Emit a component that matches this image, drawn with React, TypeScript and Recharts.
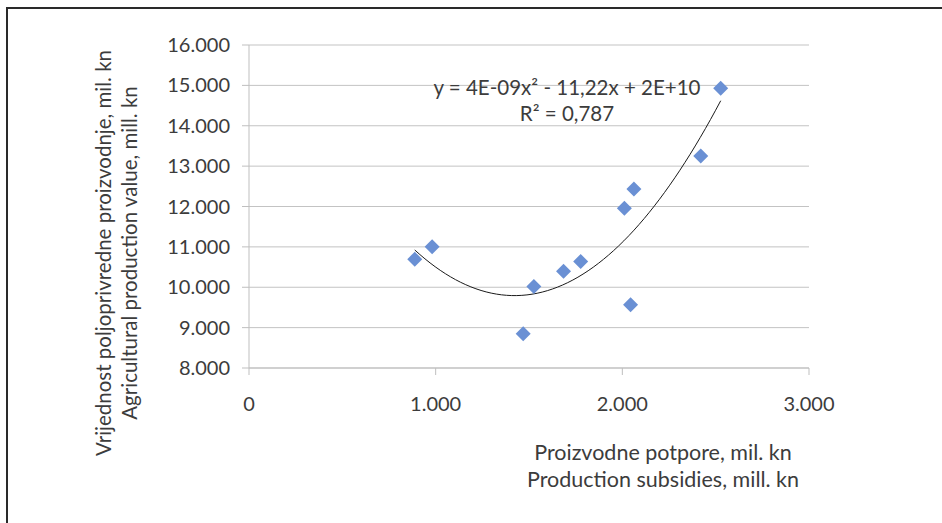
import React from 'react';
import { ScatterChart, Scatter, XAxis, YAxis, CartesianGrid, Label } from 'recharts';

// subsidies (mil. kn) vs. agricultural production value (mil. kn)
const subsidies = [888, 981, 1469, 1526, 1685, 1777, 2011, 2062, 2044, 2420, 2527];
const productionValue = [10695, 11006, 8848, 10017, 10394, 10635, 11955, 12433, 9565, 13249, 14930];

const xTicks = [0, 1000, 2000, 3000];
const yTicks = [8000, 9000, 10000, 11000, 12000, 13000, 14000, 15000, 16000];

const equationText = 'y = 4E-09x² - 11,22x + 2E+10';
const rSquaredText = 'R² = 0,787';
const yTitle = ['Vrijednost poljoprivredne proizvodnje, mil. kn', 'Agricultural production value, mill. kn'];
const xTitle = ['Proizvodne potpore, mil. kn', 'Production subsidies, mill. kn'];

const points = subsidies.map((x, i) => ({ x, y: productionValue[i] }));

// least squares polynomial fit, order 2 (same as the Excel trendline)
const fitQuadratic = (xs: number[], ys: number[]) => {
  const s = (p: number) => xs.reduce((a, x) => a + Math.pow(x, p), 0);
  const t = (p: number) => xs.reduce((a, x, i) => a + Math.pow(x, p) * ys[i], 0);
  const m = [
    [s(4), s(3), s(2), t(2)],
    [s(3), s(2), s(1), t(1)],
    [s(2), s(1), xs.length, t(0)],
  ];
  for (let c = 0; c < 3; c++) {
    for (let r = c + 1; r < 3; r++) {
      const f = m[r][c] / m[c][c];
      for (let k = c; k < 4; k++) m[r][k] -= f * m[c][k];
    }
  }
  const sol = [0, 0, 0];
  for (let r = 2; r >= 0; r--) {
    let v = m[r][3];
    for (let k = r + 1; k < 3; k++) v -= m[r][k] * sol[k];
    sol[r] = v / m[r][r];
  }
  return sol; // a, b, c
};

const [qa, qb, qc] = fitQuadratic(subsidies, productionValue);
const xMin = Math.min(...subsidies);
const xMax = Math.max(...subsidies);
const trend = Array.from({ length: 61 }, (_, i) => {
  const x = xMin + ((xMax - xMin) * i) / 60;
  return { x, y: qa * x * x + qb * x + qc };
});

const fmt = (v: number) => (v === 0 ? '0' : (v / 1000).toFixed(3));

const textColor = '#3c3c3c';
const font = 'Lato, "Open Sans", sans-serif';

const Diamond = (props: any) => {
  const { cx, cy } = props;
  const h = 7.5;
  return (
    <polygon
      points={`${cx},${cy - h} ${cx + h},${cy} ${cx},${cy + h} ${cx - h},${cy}`}
      fill="#6a90d4"
    />
  );
};

const Titles = () => (
  <g fontFamily={font} fill={textColor}>
    <text x={567} y={87} fontSize={20.5} textAnchor="middle" dominantBaseline="central">{equationText}</text>
    <text x={567} y={113} fontSize={20.5} textAnchor="middle" dominantBaseline="central">{rSquaredText}</text>
    <text x={663} y={452} fontSize={21.5} textAnchor="middle" dominantBaseline="central">{xTitle[0]}</text>
    <text x={663} y={479} fontSize={21.5} textAnchor="middle" dominantBaseline="central">{xTitle[1]}</text>
    <text x={103} y={253} fontSize={20.5} textAnchor="middle" dominantBaseline="central" transform="rotate(-90 103 253)">{yTitle[0]}</text>
    <text x={129} y={253} fontSize={20.5} textAnchor="middle" dominantBaseline="central" transform="rotate(-90 129 253)">{yTitle[1]}</text>
  </g>
);

export default function App() {
  return (
    <div style={{ position: 'absolute', left: 0, top: 0, width: 942, height: 523, background: '#fff', overflow: 'hidden' }}>
      <div style={{ position: 'absolute', left: 6, top: 7, width: 1000, height: 600, borderLeft: '2px solid #2a2a2a', borderTop: '2px solid #2a2a2a' }} />
      <div style={{ position: 'absolute', left: 0, top: 0 }}>
        <ScatterChart width={942} height={523} margin={{ top: 45, right: 133, bottom: 95, left: 149 }}>
          <CartesianGrid vertical={false} stroke="#c3c3c3" />
          <XAxis
            type="number"
            dataKey="x"
            domain={[0, 3000]}
            ticks={xTicks}
            tickFormatter={fmt}
            height={60}
            stroke="#bfbfbf"
            tickSize={7}
            tickMargin={22}
            tick={{ fill: textColor, fontSize: 20, fontFamily: font }}
            allowDataOverflow
          />
          <YAxis
            type="number"
            dataKey="y"
            domain={[8000, 16000]}
            ticks={yTicks}
            tickFormatter={fmt}
            width={100}
            stroke="#bfbfbf"
            tickSize={7}
            tickMargin={12}
            tick={{ fill: textColor, fontSize: 20, fontFamily: font }}
            allowDataOverflow
          >
            <Label content={() => <Titles />} />
          </YAxis>
          <Scatter
            data={trend}
            line={{ stroke: '#1a1a1a', strokeWidth: 1 }}
            shape={() => <g />}
            isAnimationActive={false}
          />
          <Scatter data={points} shape={<Diamond />} isAnimationActive={false} />
        </ScatterChart>
      </div>
    </div>
  );
}
